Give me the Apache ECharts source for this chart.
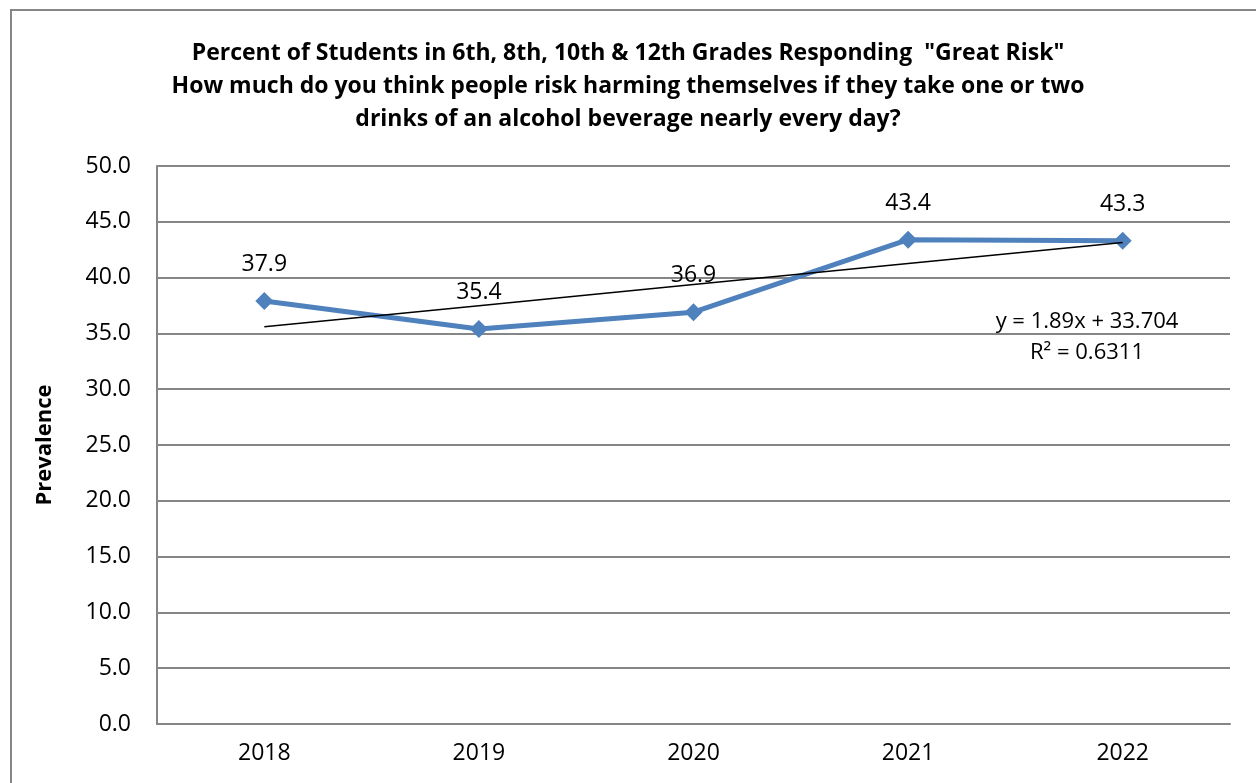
<!DOCTYPE html>
<html>
<head>
<meta charset="utf-8">
<script src="https://cdn.jsdelivr.net/npm/echarts@6/dist/echarts.min.js"></script>
<style>
  html, body { margin: 0; padding: 0; background: #fff; }
  #chart { width: 1256px; height: 783px; }
</style>
</head>
<body>
<div id="chart"></div>
<script>
// values
const years = ['2018', '2019', '2020', '2021', '2022']
const prevalence = [37.9, 35.4, 36.9, 43.4, 43.3]
// linear trendline, y = 1.89x + 33.704 (x = 1..5)
const trend = [35.594, 37.484, 39.374, 41.264, 43.154]
const equation = ['y = 1.89x + 33.704', 'R² = 0.6311']

const font = '"Open Sans", "Noto Sans", sans-serif'
const chart = echarts.init(document.getElementById('chart'))

chart.setOption({
    animation: false,
    title: {
        text: 'Percent of Students in 6th, 8th, 10th & 12th Grades Responding  "Great Risk"\n' +
            'How much do you think people risk harming themselves if they take one or two\n' +
            'drinks of an alcohol beverage nearly every day?',
        left: 'center',
        top: 32,
        textStyle: {
            fontFamily: font,
            fontSize: 23,
            fontWeight: 'bold',
            color: '#000',
            lineHeight: 33
        }
    },
    graphic: [
        {
            type: 'rect',
            shape: { x: 11, y: 10, width: 1280, height: 820 },
            style: { fill: 'none', stroke: '#868686', lineWidth: 2 },
            silent: true
        },
        {
            type: 'text',
            x: 1087,
            y: 306,
            style: {
                text: equation.join('\n'),
                fontFamily: font,
                fontSize: 22,
                lineHeight: 31,
                fill: '#000',
                align: 'center',
                verticalAlign: 'top'
            }
        }
    ],
    grid: {
        left: 157,
        right: 26,
        top: 166,
        bottom: 59
    },
    xAxis: {
        type: 'category',
        data: years,
        boundaryGap: true,
        axisLine: { lineStyle: { color: '#868686', width: 2 } },
        axisTick: { show: false },
        axisLabel: {
            fontFamily: font,
            fontSize: 23,
            color: '#000',
            margin: 18
        }
    },
    yAxis: {
        type: 'value',
        min: 0,
        max: 50,
        interval: 5,
        name: 'Prevalence',
        nameLocation: 'middle',
        nameGap: 101,
        nameTextStyle: {
            fontFamily: font,
            fontSize: 22,
            fontWeight: 'bold',
            color: '#000'
        },
        axisLine: { show: true, lineStyle: { color: '#868686', width: 2 } },
        axisTick: { show: false },
        splitLine: { lineStyle: { color: '#868686', width: 2 } },
        axisLabel: {
            fontFamily: font,
            fontSize: 23,
            color: '#000',
            margin: 26,
            formatter: v => v.toFixed(1)
        }
    },
    series: [
        {
            name: 'Prevalence',
            type: 'line',
            data: prevalence,
            symbol: 'diamond',
            symbolSize: 18,
            lineStyle: { color: '#4F81BD', width: 5 },
            itemStyle: { color: '#4F81BD' },
            label: {
                show: true,
                position: 'top',
                distance: 16,
                fontFamily: font,
                fontSize: 23,
                color: '#000',
                formatter: p => p.value.toFixed(1)
            },
            z: 3
        },
        {
            name: 'Trend',
            type: 'line',
            data: trend,
            symbol: 'none',
            lineStyle: { color: '#000', width: 1.5 },
            z: 4
        }
    ]
})
</script>
</body>
</html>
